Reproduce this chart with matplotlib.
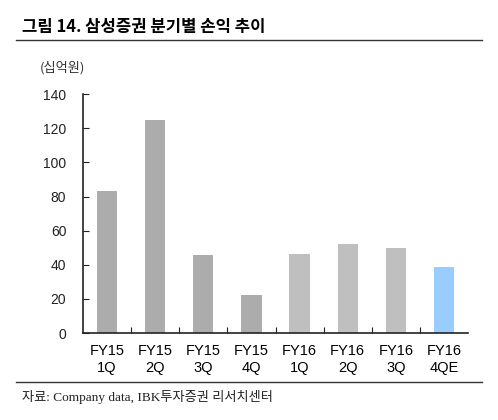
import matplotlib.pyplot as plt
from matplotlib.lines import Line2D

plt.rcParams['font.family'] = ['Liberation Sans', 'Noto Sans CJK KR']

# 분기별 손익 (십억원)
years = ['FY15', 'FY15', 'FY15', 'FY15', 'FY16', 'FY16', 'FY16', 'FY16']
quarters = ['1Q', '2Q', '3Q', '4Q', '1Q', '2Q', '3Q', '4QE']
profit = [83.4, 124.8, 45.5, 22.2, 46.4, 52.1, 49.8, 38.7]
colors = ['#ACACAC'] * 4 + ['#BFBFBF'] * 3 + ['#99CCFF']

labels = [y + '\n' + q for y, q in zip(years, quarters)]

fig = plt.figure(figsize=(4.98, 4.2), dpi=100)
ax = fig.add_axes([0.1667, 0.207, 0.7731, 0.569])

x = range(len(profit))
ax.bar(x, profit, width=0.42, color=colors)

ax.set_xlim(-0.5, len(profit) - 0.5)
ax.set_ylim(0, 140)
ax.set_yticks(range(0, 141, 20))
ax.tick_params(axis='y', direction='in', length=4, labelsize=10, pad=12, colors='#222222')
ax.set_xticks([i + 0.5 for i in range(len(profit) - 1)])
ax.set_xticklabels([])
ax.tick_params(axis='x', direction='in', length=4, colors='#222222')
ax.set_xticks(list(x), minor=True)
ax.set_xticklabels(labels, minor=True, fontsize=10.5, linespacing=1.3)
ax.tick_params(axis='x', which='minor', length=0, pad=8)

for s in ['top', 'right']:
    ax.spines[s].set_visible(False)
for s in ['left', 'bottom']:
    ax.spines[s].set_color('#222222')
    ax.spines[s].set_linewidth(1.2)

# 제목과 구분선
fig.text(22 / 498, 1 - 27 / 420, '그림 14. 삼성증권 분기별 손익 추이',
         fontsize=12, fontweight='bold', va='center', ha='left',
         family=['Noto Sans CJK KR'])
fig.add_artist(Line2D([16 / 498, 482 / 498], [1 - 40 / 420] * 2,
                      color='#333333', lw=1.0))
fig.text(40 / 498, 1 - 68 / 420, '(십억원)', fontsize=9.5, va='center',
         ha='left', color='#333333', family=['Noto Sans CJK KR'])

fig.add_artist(Line2D([16 / 498, 482 / 498], [1 - 382 / 420] * 2,
                      color='#333333', lw=1.0))
fig.text(22 / 498, 1 - 397 / 420, '자료: Company data, IBK투자증권 리서치센터',
         fontsize=9.5, va='center', ha='left', color='#222222',
         family=['Liberation Serif', 'Noto Sans CJK KR'])

fig.savefig('out.png', dpi=100)
